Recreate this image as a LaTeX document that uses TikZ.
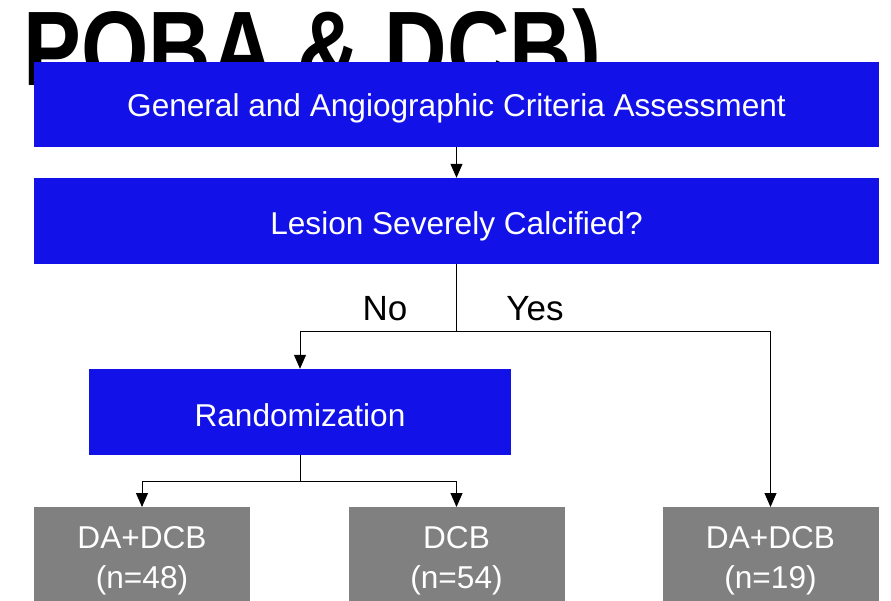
\documentclass[tikz,border=0pt]{standalone}
\usepackage{fontspec}
\setmainfont{Liberation Sans}
\usetikzlibrary{arrows.meta}
\definecolor{boxblue}{RGB}{18,18,232}
\definecolor{boxgrey}{RGB}{128,128,128}
\newcommand{\boxtext}[2][-5pt]{\raisebox{#1}[\height][\depth]{\begin{tabular}{@{}c@{}}#2\end{tabular}}}
\begin{document}
\begin{tikzpicture}[x=1pt,y=-1pt,
  bluebox/.style={fill=boxblue,text=white,draw=none,inner sep=0pt,align=center,
    font=\fontsize{31.6}{40}\selectfont},
  greybox/.style={fill=boxgrey,text=white,draw=none,inner sep=0pt,align=center,
    minimum width=216pt,minimum height=100pt,font=\fontsize{31.6}{40}\selectfont},
  conn/.style={draw=black,line width=1pt},
  arr/.style={conn,-{Triangle[length=14pt,width=12pt]}},
  lbl/.style={text=black,inner sep=0pt,font=\fontsize{35}{40}\selectfont}]
\useasboundingbox (0,0) rectangle (891,601);
\fill[white] (0,0) rectangle (891,601);
% title partly hidden
\node[anchor=base west,inner sep=0pt,text=black,font=\fontsize{106}{106}\selectfont\bfseries] (title) at (23,86) {\scalebox{0.818}[1]{POBA \& DCB)}};
% boxes
\node[bluebox,minimum width=845pt,minimum height=85pt] (b1) at (456.5,104.5) {\boxtext[-4pt]{General and Angiographic Criteria Assessment}};
\node[bluebox,minimum width=845pt,minimum height=86pt] (b2) at (456.5,221) {\boxtext[-6pt]{Lesion Severely Calcified?}};
\node[bluebox,minimum width=422pt,minimum height=86pt] (rand) at (300,412) {\boxtext[-6pt]{Randomization}};
\node[greybox,anchor=north] (g1) at (142,507) {\boxtext[-3pt]{DA+DCB\\(n=48)}};
\node[greybox,anchor=north] (g2) at (456.5,507) {\boxtext[-3pt]{DCB\\(n=54)}};
\node[greybox,anchor=north] (g3) at (770.5,507) {\boxtext[-3pt]{DA+DCB\\(n=19)}};
% connectors
\draw[arr] (b1.south) -- (b2.north);
\coordinate (split) at (456.5,332);
\draw[conn] (b2.south) -- (split);
\draw[arr] (split) -| (rand.north);
\draw[arr] (split) -| (g3.north);
\coordinate (split2) at (300,481);
\draw[conn] (rand.south) -- (split2);
\draw[arr] (split2) -| (g1.north);
\draw[arr] (split2) -| (g2.north);
% labels
\node[lbl] (no) at (385,309) {No};
\node[lbl] (yes) at (535,309) {Yes};
\end{tikzpicture}
\end{document}
